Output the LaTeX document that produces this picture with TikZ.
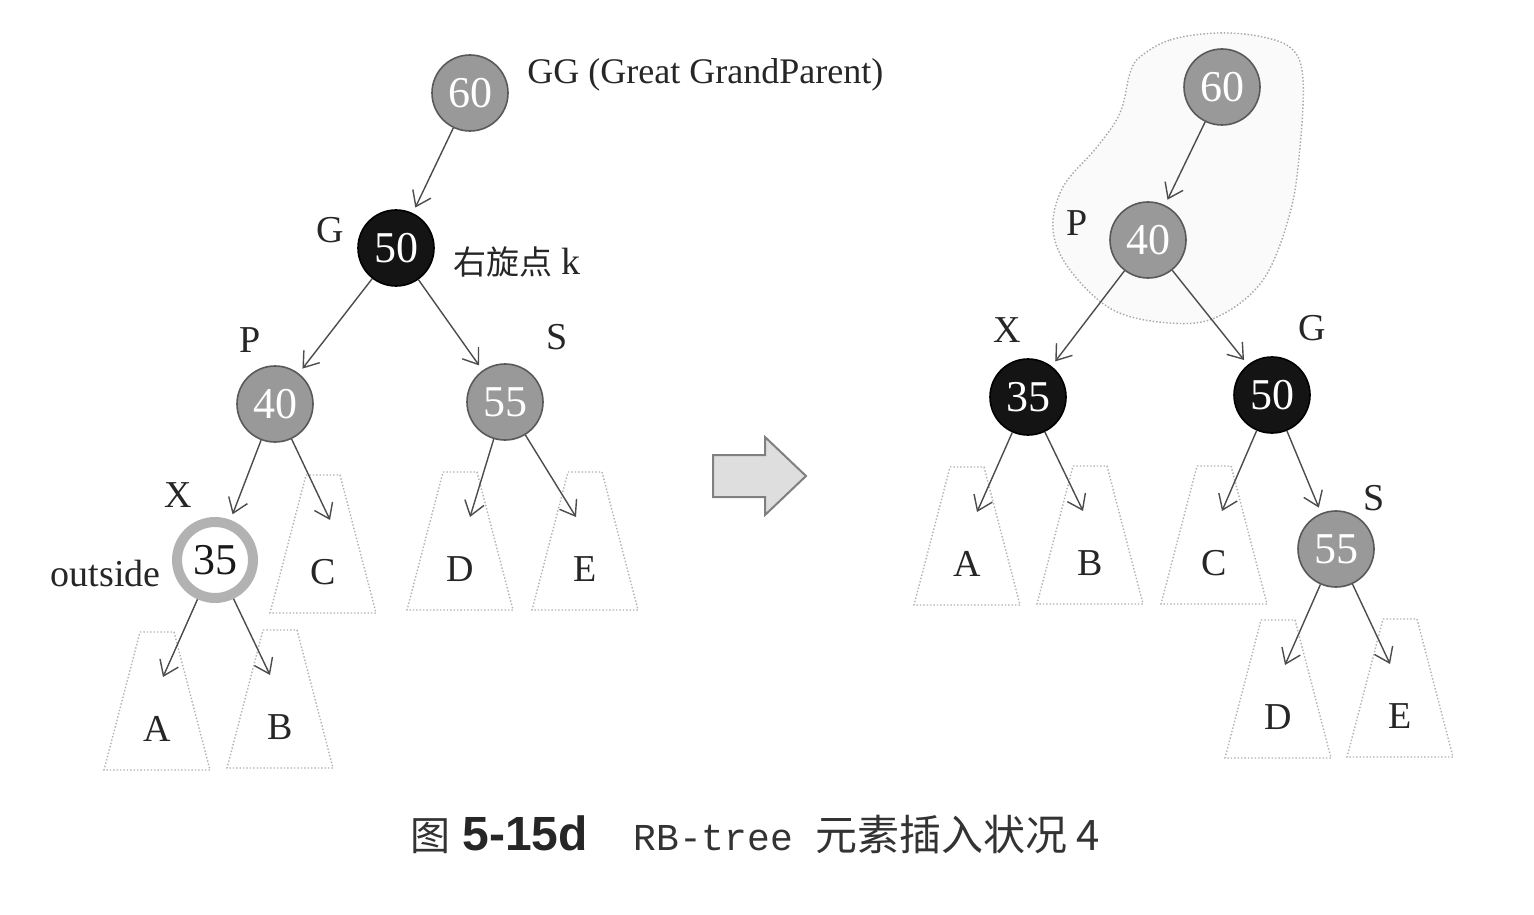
\documentclass[tikz,border=0pt]{standalone}
\usepackage{fontspec}
\setmainfont{Liberation Serif}
\newfontfamily\cjk{Noto Sans CJK SC}
\newfontfamily\capsans{Liberation Sans}
\newfontfamily\capmono{Liberation Mono}
\usetikzlibrary{arrows.meta}
\newcommand\trap[6]{% name, x, ytop, label, arrow-end coordinate name, arrow x offset
  \draw[subtree] (#2-17,#3) -- (#2+17,#3) -- (#2+53,#3+138) -- (#2-53,#3+138) -- cycle;
  \node[sublbl] (#1) at (#2,#3+97) {#4};
  \coordinate (#5) at (#2+#6,#3+45);
}
\begin{document}
\begin{tikzpicture}[x=0.5pt,y=-0.5pt,
  rbnode/.style={circle, minimum size=38pt, inner sep=0pt, font=\fontsize{22}{22}\selectfont},
  rednode/.style={rbnode, draw=black!65, line width=0.8pt, fill=black!40, text=white},
  blacknode/.style={rbnode, draw=black, line width=0.8pt, fill=black!92, text=white},
  newnode/.style={rbnode, draw=black!30, line width=5pt, fill=white, text=black!90},
  subtree/.style={draw=black!30, densely dotted, line width=0.7pt},
  lbl/.style={font=\fontsize{19}{19}\selectfont, text=black!85, inner sep=0pt},
  sublbl/.style={font=\fontsize{19}{19}\selectfont, text=black!85, inner sep=0pt},
  link/.style={draw=black!70, line width=0.7pt, -{Straight Barb[length=7pt,width=10pt]}},
  tolink/.style={link, shorten >=3pt},
  blob/.style={draw=black!35, densely dotted, line width=0.7pt, fill=black!2},
  bigarrow/.style={draw=black!50, line width=1pt, fill=black!13, line join=miter},
]
\path[use as bounding box, fill=white] (0,0) rectangle (1534,914);

% ---------------- left tree ----------------
\node[rednode] (L60) at (470,93) {60};
\node[blacknode] (L50) at (396,248) {50};
\node[rednode] (L40) at (275,404) {40};
\node[rednode] (L55) at (505,402) {55};
\node[newnode] (L35) at (215,560) {35};

\node[lbl, anchor=west, font=\fontsize{18}{18}\selectfont] (lGG) at (527,75) {GG (Great GrandParent)};
\node[lbl] (lG) at (330,230) {G};
\node[lbl, anchor=west] (lk) at (453,262) {{\cjk\fontsize{16.5}{16.5}\selectfont 右旋点} k};
\node[lbl] (lP) at (250,340) {P};
\node[lbl] (lS) at (557,337) {S};
\node[lbl] (lX) at (178,495) {X};
\node[lbl, anchor=east] (lout) at (161,573) {outside};

\trap{LA}{157}{632}{A}{eLA}{6}
\trap{LB}{280}{630}{B}{eLB}{-10}
\trap{LC}{323}{475}{C}{eLC}{7}
\trap{LD}{460}{472}{D}{eLD}{10}
\trap{LE}{585}{472}{E}{eLE}{-9}

\draw[tolink] (L60) -- (L50);
\draw[tolink] (L50) -- (L40);
\draw[tolink] (L50) -- (L55);
\draw[tolink] (L40) -- (L35);
\draw[link] (L40) -- (eLC);
\draw[link] (L55) -- (eLD);
\draw[link] (L55) -- (eLE);
\draw[link] (L35) -- (eLA);
\draw[link] (L35) -- (eLB);

% ---------------- transition arrow ----------------
\draw[bigarrow] (713,455) -- (765,455) -- (765,437) -- (806,476) -- (765,515) -- (765,497) -- (713,497) -- cycle;

% ---------------- right tree ----------------
\draw[blob] plot[smooth cycle, tension=0.6] coordinates {(1140,57) (1170,40) (1217,33) (1263,37) (1293,50) (1303,80) (1300,147) (1290,213) (1263,280) (1217,317) (1170,323) (1113,310) (1070,270) (1053,230) (1063,187) (1097,147) (1120,113) (1130,73)};

\node[rednode] (R60) at (1222,87) {60};
\node[rednode] (R40) at (1148,240) {40};
\node[blacknode] (R35) at (1028,397) {35};
\node[blacknode] (R50) at (1272,395) {50};
\node[rednode] (R55) at (1336,549) {55};

\node[lbl] (rP) at (1077,223) {P};
\node[lbl] (rX) at (1007,330) {X};
\node[lbl] (rG) at (1312,328) {G};
\node[lbl] (rS) at (1374,498) {S};

\trap{RA}{967}{467}{A}{eRA}{10}
\trap{RB}{1090}{466}{B}{eRB}{-7}
\trap{RC}{1214}{466}{C}{eRC}{8}
\trap{RD}{1278}{620}{D}{eRD}{7}
\trap{RE}{1400}{619}{E}{eRE}{-10}

\draw[tolink] (R60) -- (R40);
\draw[tolink] (R40) -- (R35);
\draw[tolink] (R40) -- (R50);
\draw[tolink] (R50) -- (R55);
\draw[link] (R35) -- (eRA);
\draw[link] (R35) -- (eRB);
\draw[link] (R50) -- (eRC);
\draw[link] (R55) -- (eRD);
\draw[link] (R55) -- (eRE);

% ---------------- caption ----------------
\node[anchor=base west, inner sep=0pt, text=black!80] (cap1) at (410,850) {\cjk\fontsize{20}{20}\selectfont 图};
\node[anchor=base west, inner sep=0pt, text=black!85] (cap2) at (462,850) {\capsans\bfseries\fontsize{24}{24}\selectfont 5-15d};
\node[anchor=base west, inner sep=0pt, text=black!80] (cap3) at (633,850) {\capmono\fontsize{19}{19}\selectfont RB-tree};
\node[anchor=base west, inner sep=0pt, text=black!80] (cap4) at (815,850) {\cjk\fontsize{21}{21}\selectfont 元素插入状况 4};
\end{tikzpicture}
\end{document}
